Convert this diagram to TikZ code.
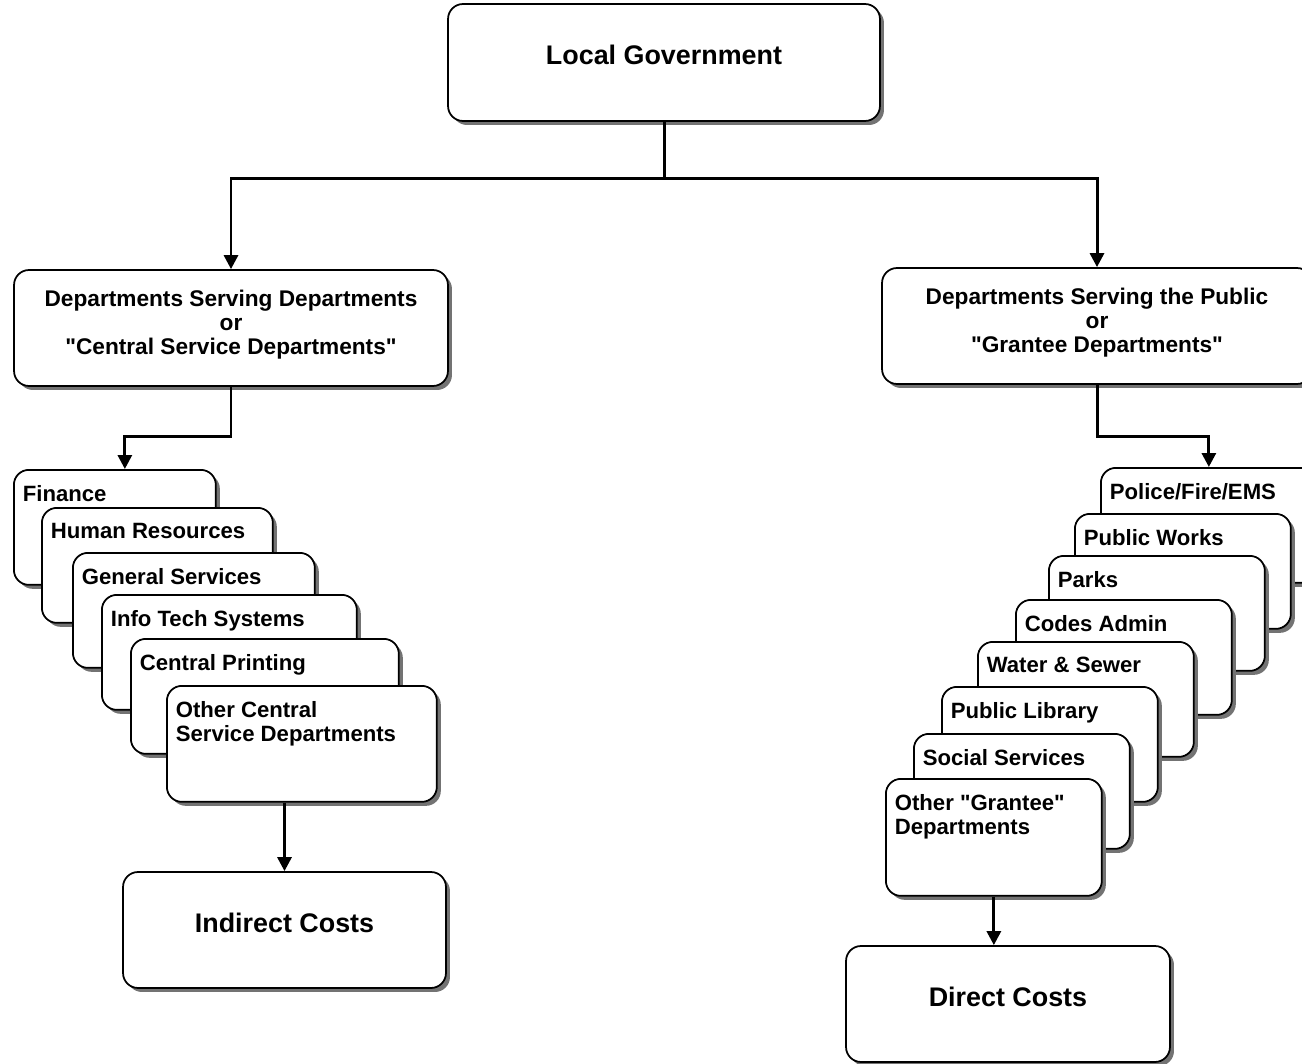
\documentclass[tikz,border=0pt]{standalone}
\usepackage{fontspec}
\setmainfont{Liberation Sans}
\usepackage{tikz}
\usetikzlibrary{arrows.meta, shadows, positioning}

\begin{document}
\begin{tikzpicture}[x=0.02cm, y=-0.02cm,
  box/.style={draw, line width=1pt, rounded corners=0.3cm, fill=white,
    minimum height=2.32cm, inner sep=0pt,
    drop shadow={shadow xshift=0.08cm, shadow yshift=-0.08cm,
      fill=black!55, opacity=1}},
  bigbox/.style={box, label={[bigtext]center:#1}},
  bigtext/.style={font=\fontsize{15.3}{18}\selectfont\bfseries, yshift=0.15cm},
  deptbox/.style={box, label={[depttext]center:#1}},
  depttext/.style={font=\fontsize{12.9}{13.6}\selectfont\bfseries,
    align=center, yshift=0.07cm},
  card/.style={box, minimum height=2.3cm, anchor=north west,
    label={[cardtext]north west:#1}},
  cardtext/.style={anchor=north west, inner sep=0pt, xshift=0.19cm,
    yshift=-0.32cm, align=left, font=\fontsize{12.6}{13.6}\selectfont\bfseries},
  arr/.style={line width=1.7pt, -{Triangle[width=0.28cm,length=0.28cm]}}
]
\useasboundingbox (0,0) rectangle (1302,1064);
\clip (0,0) rectangle (1302,1064);

\node[bigbox=Local Government, minimum width=8.64cm, minimum height=2.34cm] (lg) at (664,62.5) {};

\node[deptbox={Departments Serving Departments\\or\\\textquotedbl Central Service Departments\textquotedbl},
  minimum width=8.68cm] (ld) at (231,328) {};
\node[deptbox={Departments Serving the Public\\or\\\textquotedbl Grantee Departments\textquotedbl},
  minimum width=8.6cm] (rd) at (1097,326) {};

\draw[line width=1.7pt] (lg.south) -- ++(0,57) coordinate (split);
\draw[arr] (split) -| (ld.north);
\draw[arr] (split) -| (rd.north);

% central service departments
\node[card=Finance, minimum width=4.04cm] (fin) at (13,469) {};
\node[card=Human Resources, minimum width=4.62cm] (hr) at (41,507) {};
\node[card=General Services, minimum width=4.84cm] (gs) at (72,552) {};
\node[card=Info Tech Systems, minimum width=5.1cm] (its) at (101,594) {};
\node[card=Central Printing, minimum width=5.36cm] (cp) at (130,638) {};
\node[card={Other Central\\Service Departments}, minimum width=5.4cm,
  minimum height=2.32cm] (ocs) at (166,685) {};

% grantee departments
\node[card=Police/Fire/EMS, minimum width=4.32cm] (pfe) at (1100,467) {};
\node[card=Public Works, minimum width=4.32cm] (pw) at (1074,513) {};
\node[card=Parks, minimum width=4.32cm] (pk) at (1048,555) {};
\node[card=Codes Admin, minimum width=4.32cm] (ca) at (1015,599) {};
\node[card=Water \& Sewer, minimum width=4.32cm] (ws) at (977,641) {};
\node[card=Public Library, minimum width=4.32cm] (pl) at (941,686) {};
\node[card=Social Services, minimum width=4.32cm] (ss) at (913,733) {};
\node[card={Other \textquotedbl Grantee\textquotedbl\\Departments}, minimum width=4.32cm,
  minimum height=2.34cm] (og) at (885,778) {};

\draw[arr] (ld.south) -- ++(0,50) -| ([xshift=0.2cm]fin.north);
\draw[arr] (rd.south) -- ++(0,52) -| (pfe.north);

\node[bigbox=Indirect Costs, minimum width=6.46cm] (ind) at (284.5,930) {};
\node[bigbox=Direct Costs, minimum width=6.48cm] (dir) at (1008,1004) {};

\draw[arr] (ocs.south -| ind.north) -- (ind.north);
\draw[arr] (og.south) -- (og.south |- dir.north);
\end{tikzpicture}
\end{document}
